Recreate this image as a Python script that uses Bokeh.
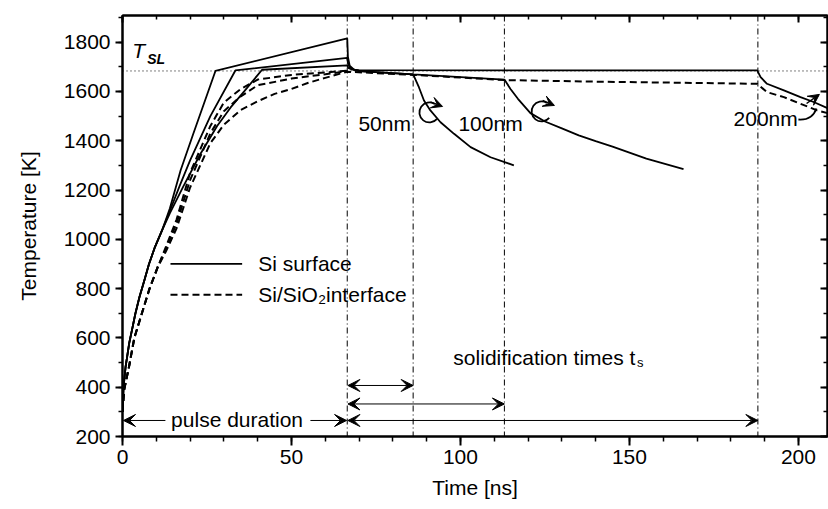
from bokeh.plotting import figure
from bokeh.models import (Range1d, SingleIntervalTicker, LinearAxis, Span, Arrow,
                          VeeHead)
from bokeh.embed import file_html
from bokeh.resources import INLINE
from bokeh.core.properties import value

# ---------------- data ----------------
# Si surface temperature, three film thicknesses
t_s50 = [0, 0.3, 0.9, 2, 3, 3.8, 5, 6.5, 7.8, 9.5, 11.7, 14, 17.2, 21, 27.5, 66.5, 66.7, 67.2, 68.5, 70,
         86, 87.7, 89.2, 91.1, 94.1, 98.1, 103, 108.9, 115.8]
T_s50 = [300, 400, 481, 580, 645, 698, 765, 835, 898, 965, 1036, 1125, 1280, 1430, 1683, 1815, 1740, 1705, 1688, 1682,
         1669, 1617, 1563, 1523, 1475, 1428, 1374, 1333, 1300]

t_s100 = [0, 0.3, 0.9, 2, 3, 3.8, 5, 6.5, 7.8, 9.5, 11.7, 14, 17, 20, 26, 33.4, 66.5, 66.7, 67.2, 68.5, 70,
          86, 113, 114.8, 117, 120.7, 125, 130, 135, 140, 145, 155, 166]
T_s100 = [300, 400, 481, 580, 645, 698, 765, 835, 898, 965, 1036, 1115, 1220, 1320, 1500, 1685, 1736, 1715, 1698, 1688, 1682,
          1669, 1648, 1610, 1570, 1512, 1478, 1450, 1422, 1398, 1376, 1327, 1285]

t_s200 = [0, 0.3, 0.9, 2, 3, 3.8, 5, 6.5, 7.8, 9.5, 11.7, 14, 18, 23, 28, 32, 36, 41.3, 66.5, 66.8, 68, 70,
          187.8, 188.8, 190.7, 195.7, 200.6, 204.5, 208.6]
T_s200 = [300, 400, 481, 580, 645, 698, 765, 835, 898, 965, 1036, 1105, 1215, 1345, 1460, 1535, 1600, 1688, 1706, 1695, 1688, 1686,
          1685, 1658, 1631, 1604, 1577, 1557, 1532]

# Si/SiO2 interface temperature
t_i50 = [0, 0.5, 1.9, 3.5, 5.7, 8, 10.5, 13, 16, 20, 26, 30, 35, 40, 50, 60, 66.5]
T_i50 = [300, 390, 481, 600, 698, 800, 890, 975, 1080, 1270, 1460, 1555, 1610, 1648, 1667, 1677, 1684]

t_i100 = [0, 0.5, 1.9, 3.5, 5.7, 8, 10.5, 13, 16, 20, 26, 30, 35, 40, 50, 60, 66.5]
T_i100 = [300, 390, 481, 600, 698, 800, 890, 965, 1065, 1240, 1430, 1520, 1580, 1625, 1652, 1670, 1682]

t_i200 = [0, 0.5, 1.9, 3.5, 5.7, 8, 10.5, 13, 16, 20, 26, 30, 35, 40, 45, 50, 55, 60, 66.5,
          86, 113, 138, 187.8, 190.7, 195.7, 200.6, 205.5, 208.6]
T_i200 = [300, 390, 481, 600, 698, 800, 890, 955, 1045, 1210, 1390, 1465, 1525, 1560, 1590, 1610, 1635, 1655, 1680,
          1667, 1646, 1640, 1631, 1597, 1577, 1550, 1523, 1512]

T_SL = 1683                      # melting temperature line
t_pulse_end = 66.5               # end of laser pulse
t_solid_end = [86, 113, 188]     # end of solidification for 50, 100, 200 nm
labels_nm = ["50nm", "100nm", "200nm"]

x_ticks_major = 50
y_ticks_major = 200

FONT = "Liberation Sans"
FS = "21px"

# ---------------- figure ----------------
p = figure(width=828, height=509, output_backend="svg", toolbar_location=None,
           x_range=Range1d(0, 208.6), y_range=Range1d(200, 1908),
           min_border_left=122, min_border_right=1, min_border_top=15, min_border_bottom=73,
           x_axis_label="Time [ns]", y_axis_label="Temperature [K]")
p.grid.visible = False
p.outline_line_color = "black"
p.outline_line_width = 2
p.background_fill_color = "white"
p.border_fill_color = "white"

xt = SingleIntervalTicker(interval=x_ticks_major, num_minor_ticks=5)
yt = SingleIntervalTicker(interval=y_ticks_major, num_minor_ticks=2)
p.xaxis.ticker = xt
p.yaxis.ticker = yt

for ax in (p.xaxis[0], p.yaxis[0]):
    ax.axis_line_width = 2
    ax.major_tick_line_width = 2
    ax.minor_tick_line_width = 1.5
    ax.major_tick_in = 0
    ax.minor_tick_in = 0
    ax.major_label_text_font = FONT
    ax.major_label_text_font_size = FS
    ax.major_label_text_color = "black"
    ax.axis_label_text_font = FONT
    ax.axis_label_text_font_size = FS
    ax.axis_label_text_font_style = "normal"
    ax.axis_label_text_color = "black"

p.xaxis.major_tick_out = 9
p.xaxis.minor_tick_out = 5
p.xaxis.major_label_standoff = 4
p.xaxis.axis_label_standoff = 9
p.yaxis.major_tick_out = 7
p.yaxis.minor_tick_out = 4
p.yaxis.major_label_standoff = 5
p.yaxis.axis_label_standoff = 21

# mirrored tick axes (top and right) without labels
top = LinearAxis(ticker=xt, major_label_text_font_size="0px", major_label_text_color=None,
                 major_tick_in=7, major_tick_out=0,
                 minor_tick_in=4, minor_tick_out=0, axis_line_width=2, major_tick_line_width=2,
                 minor_tick_line_width=1.5, major_label_standoff=0)
right = LinearAxis(ticker=yt, major_label_text_font_size="0px", major_label_text_color=None,
                   major_tick_in=7, major_tick_out=0,
                   minor_tick_in=4, minor_tick_out=0, axis_line_width=2, major_tick_line_width=2,
                   minor_tick_line_width=1.5, major_label_standoff=0)
p.add_layout(top, "above")
p.add_layout(right, "right")

# melting line
p.line([0, 208.6], [T_SL, T_SL], line_color="black", line_width=1, line_dash="1 3")

# vertical dash-dot markers
for tv in [t_pulse_end] + t_solid_end:
    p.add_layout(Span(location=tv, dimension="height", line_color="black",
                      line_width=1, line_dash="6 3 1 3"))

# curves
DASH = "7 4"
for tt, TT in [(t_i50, T_i50), (t_i100, T_i100), (t_i200, T_i200)]:
    p.line(tt, TT, line_color="black", line_width=2, line_dash=DASH)
for tt, TT in [(t_s50, T_s50), (t_s100, T_s100), (t_s200, T_s200)]:
    p.line(tt, TT, line_color="black", line_width=1.8)

# legend (drawn inside the plot)
p.line([14.2, 35.4], [900, 900], line_color="black", line_width=1.8)
p.line([14.2, 35.4], [775, 775], line_color="black", line_width=2, line_dash=DASH)
p.text([40.2, 40.2], [900, 775], text=["Si surface", "Si/SiO\u2082interface"],
       text_font=value(FONT), text_font_size=FS, text_baseline="middle", text_align="left",
       text_color="black")

# T_SL label
p.text([2.9], [1764], text=["T"], text_font=value(FONT), text_font_size="21px",
       text_font_style="italic", text_baseline="middle", text_align="left")
p.text([7.3], [1733], text=["SL"], text_font=value(FONT), text_font_size="14px",
       text_font_style="bold italic", text_baseline="middle", text_align="left")

# thickness labels
p.text([69.8, 99.4, 180.8], [1471, 1471, 1489], text=labels_nm, text_font=value(FONT),
       text_font_size=FS, text_baseline="middle", text_align="left")

# curly arrows
p.arc([90.8, 124.0], [1514.7, 1518.7], radius=10, radius_units="screen",
      start_angle=1.0, end_angle=-0.7, direction="anticlock", line_color="black", line_width=1.8)
for xs, ys, xe, ye in [(91.1, 1557, 94.7, 1539), (124.3, 1563, 127.8, 1543), (202.4, 1551, 206.2, 1588)]:
    p.add_layout(Arrow(end=VeeHead(size=11, fill_color="black", line_color="black"),
                       x_start=xs, y_start=ys, x_end=xe, y_end=ye,
                       line_color="black", line_width=1.5))
p.quadratic(x0=[200.0], y0=[1486], x1=[205.3], y1=[1531], cx=[204.1], cy=[1482],
            line_color="black", line_width=1.8)

# pulse duration and solidification arrows
def arr(x0, y0, x1, y1, both=False):
    head = VeeHead(size=12, fill_color="black", line_color="black")
    start = VeeHead(size=12, fill_color="black", line_color="black") if both else None
    p.add_layout(Arrow(start=start, end=head, x_start=x0, y_start=y0, x_end=x1, y_end=y1,
                       line_color="black", line_width=1))

arr(12.7, 265, 0.3, 265)
arr(55.6, 265, t_pulse_end - 0.2, 265)
arr(t_pulse_end + 0.2, 407, t_solid_end[0], 407, both=True)
arr(t_pulse_end + 0.2, 332, t_solid_end[1], 332, both=True)
arr(t_pulse_end + 0.2, 265, t_solid_end[2], 265, both=True)

p.text([33.9], [268], text=["pulse duration"], text_font=value(FONT), text_font_size=FS,
       text_baseline="middle", text_align="center")
p.text([97.9], [522], text=["solidification times t"], text_font=value(FONT), text_font_size=FS,
       text_baseline="middle", text_align="left")
p.text([152.2], [500], text=["s"], text_font=value(FONT), text_font_size="13px",
       text_baseline="middle", text_align="left")

open("out.html", "w").write(file_html(p, INLINE))
